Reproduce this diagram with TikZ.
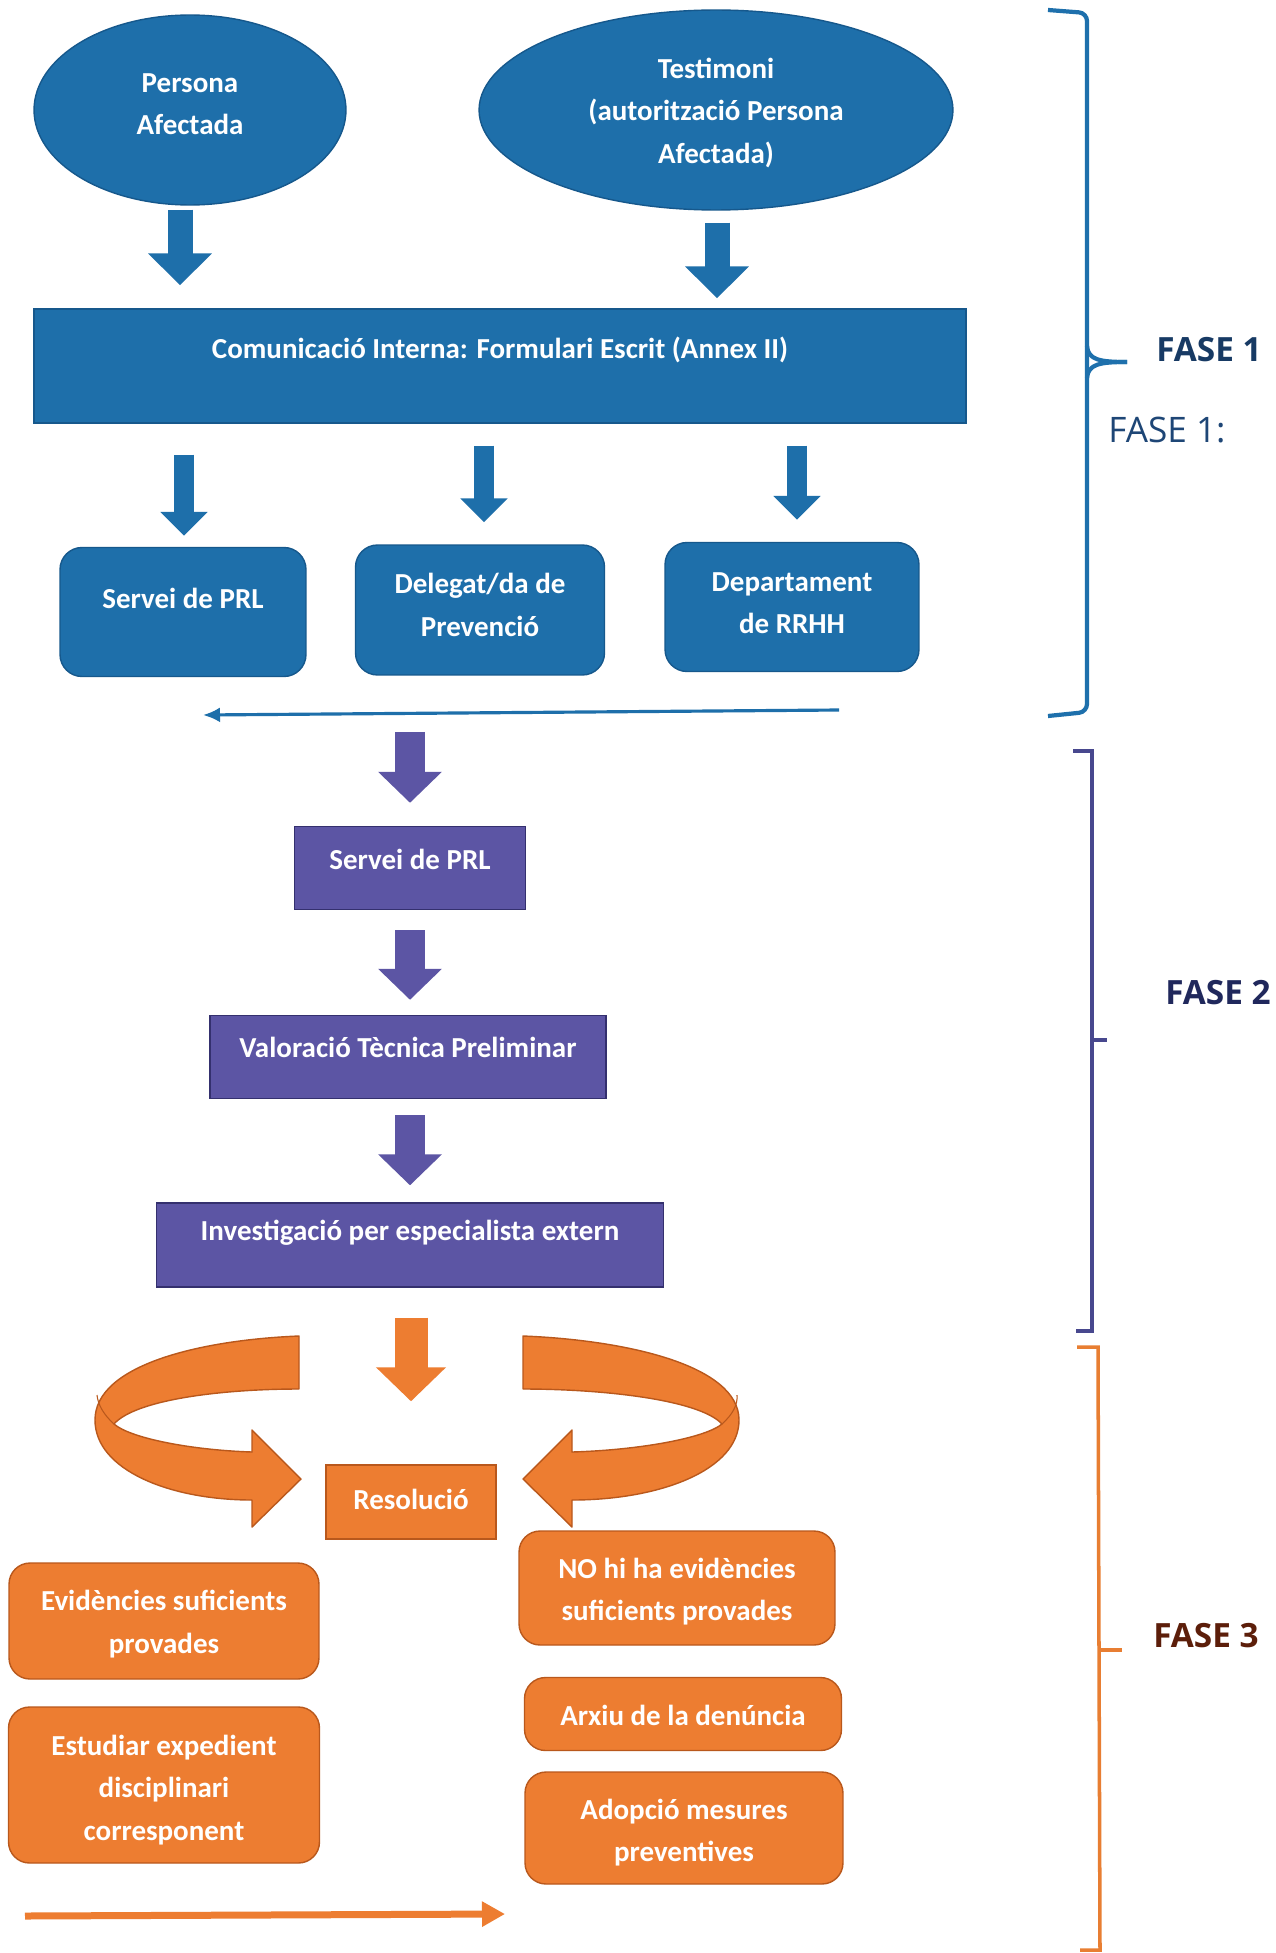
\documentclass[tikz,border=0pt]{standalone}
\usepackage{fontspec}
\setmainfont{Carlito}
\newfontfamily\fasefont{Open Sans}
\usetikzlibrary{arrows.meta,shapes.geometric,calc}
\definecolor{blueF}{RGB}{30,111,170}
\definecolor{blueD}{RGB}{22,88,140}
\definecolor{purF}{RGB}{92,85,164}
\definecolor{purD}{RGB}{52,48,110}
\definecolor{orF}{RGB}{237,125,49}
\definecolor{orD}{RGB}{185,88,28}
\definecolor{f1c}{RGB}{23,58,100}
\definecolor{f1b}{RGB}{30,70,118}
\definecolor{f2c}{RGB}{32,40,92}
\definecolor{f3c}{RGB}{92,30,10}
\definecolor{br1}{RGB}{30,112,172}
\definecolor{br2}{RGB}{72,72,142}
\definecolor{br3}{RGB}{232,126,50}
\begin{document}
\begin{tikzpicture}[x=0.02cm,y=-0.02cm,
  txt/.style={text=white, font=\bfseries\fontsize{16.5}{24}\selectfont, align=center, inner sep=0pt},
  ell/.style={ellipse, draw=blueD, fill=blueF, line width=0.8pt, inner sep=0pt},
  bluebar/.style={draw=blueD, fill=blueF, line width=0.8pt, inner sep=0pt},
  bluebox/.style={draw=blueD, fill=blueF, line width=0.8pt, rounded corners=0.44cm, inner sep=0pt},
  purbox/.style={draw=purD, fill=purF, line width=0.8pt, inner sep=0pt},
  orbox/.style={draw=orD, fill=orF, line width=0.8pt, inner sep=0pt},
  orrbox/.style={draw=orD, fill=orF, line width=0.8pt, rounded corners=0.42cm, inner sep=0pt},
  bigblue/.style={draw=blueF, line width=0.5cm, -{Triangle[width=1.24cm,length=0.64cm]}},
  smallblue/.style={draw=blueF, line width=0.4cm, -{Triangle[width=0.92cm,length=0.48cm]}},
  purarrow/.style={draw=purF, line width=0.6cm, -{Triangle[width=1.24cm,length=0.62cm]}},
  orarrow/.style={draw=orF, line width=0.66cm, -{Triangle[width=1.36cm,length=0.68cm]}},
  fasebold/.style={font=\fasefont\bfseries\fontsize{19}{23}\selectfont, inner sep=0pt},
  fasereg/.style={font=\fasefont\fontsize{20}{24}\selectfont, inner sep=0pt}
]
\useasboundingbox (0,0) rectangle (1275,1953);
\fill[white] (0,0) rectangle (1275,1953);

% ---------------- FASE 1 ----------------
\node[ell, minimum width=6.24cm, minimum height=3.8cm] (pa) at (190,110) {};
\node[txt] (pat) at (190,104) {Persona\\Afectada};
\node[ell, minimum width=9.48cm, minimum height=4.0cm] (test) at (716,110) {};
\node[txt] (testt) at (716,113) {Testimoni\\(autorització Persona\\Afectada)};

\node[bluebar, minimum width=18.64cm, minimum height=2.28cm] (com) at (500,366) {};
\node[txt] (comt) at (500,350) {Comunicació Interna: Formulari Escrit (Annex II)};

\draw[bigblue] ($(pa.south)+(-10,4)$) -- ($(pa.south |- com.north)+(-10,-23)$);
\draw[bigblue] ($(test.south)+(1,12)$) -- ($(test.south |- com.north)+(1,-10)$);

\node[bluebox, minimum width=4.92cm, minimum height=2.58cm] (prl1) at (183,612) {};
\node[txt] (prl1t) at (183,598) {Servei de PRL};
\node[bluebox, minimum width=4.98cm, minimum height=2.6cm] (del) at (480,610) {};
\node[txt] (delt) at (480,605) {Delegat/da de\\Prevenció};
\node[bluebox, minimum width=5.08cm, minimum height=2.58cm] (rrhh) at (792,607) {};
\node[txt] (rrhht) at (792,603) {Departament\\de RRHH};

\draw[smallblue] ($(prl1.north |- com.south)+(1,31)$) -- ($(prl1.north)+(1,-11)$);
\draw[smallblue] ($(del.north |- com.south)+(4,22)$) -- ($(del.north)+(4,-22)$);
\draw[smallblue] ($(rrhh.north |- com.south)+(5,22)$) -- ($(rrhh.north)+(5,-22)$);

\coordinate (t1) at (839,710);
\coordinate (t2) at (203,715);
\draw[draw=blueF, line width=1.8pt, -{Latex[length=0.34cm,width=0.3cm]}] (t1) -- (t2);

% bracket fase 1
\draw[br1, line width=2.4pt, rounded corners=0.16cm] (1048,10) -- (1087,13) -- (1087,712) -- (1048,716);
\draw[br1, line width=2.4pt] (1087,346) .. controls (1088,360) and (1100,362) .. (1127,362);
\draw[br1, line width=2.4pt] (1087,378) .. controls (1088,364) and (1100,362) .. (1127,362);
\node[fasebold, text=f1c] (fase1) at (1209,350) {FASE 1};
\node[fasereg, text=f1b] (fase1b) at (1167,430) {FASE 1:};

% ---------------- FASE 2 ----------------
\node[purbox, minimum width=4.62cm, minimum height=1.66cm] (s2) at (410,868) {};
\node[txt] (s2t) at (410,859) {Servei de PRL};
\node[purbox, minimum width=7.92cm, minimum height=1.66cm] (val) at (408,1057) {};
\node[txt] (valt) at (408,1047) {Valoració Tècnica Preliminar};
\node[purbox, minimum width=10.14cm, minimum height=1.68cm] (inv) at (410,1245) {};
\node[txt] (invt) at (410,1233) {Investigació per especialista extern};

\draw[purarrow] ($(s2.north)+(0,-94)$) -- ($(s2.north)+(0,-23)$);
\draw[purarrow] ($(s2.south)+(0,20)$) -- ($(s2.south |- val.north)+(0,-15)$);
\draw[purarrow] ($(val.south)+(2,16)$) -- ($(val.south |- inv.north)+(2,-17)$);

\draw[br2, line width=2pt] (1073,751) -- (1092,751) -- (1092,1331) -- (1076,1331);
\draw[br2, line width=2pt] (1092,1040) -- (1107,1040);
\node[fasebold, text=f2c] (fase2) at (1218,993) {FASE 2};

% ---------------- FASE 3 ----------------
\node[orbox, minimum width=3.4cm, minimum height=1.48cm] (res) at (411,1502) {};
\node[txt] (rest) at (411,1499) {Resolució};
\draw[orarrow] ($(inv.south)+(1,30)$) -- ($(inv.south |- res.north)+(1,-63)$);

% curved arrows
\filldraw[fill=orF, draw=orD, line width=0.8pt, line join=round]
  (299,1336) .. controls (200,1340) and (95,1365) .. (95,1420)
  .. controls (95,1470) and (170,1500) .. (252,1500)
  -- (252,1527) -- (301,1479) -- (252,1430) -- (252,1452)
  .. controls (190,1450) and (130,1438) .. (114,1424)
  .. controls (135,1400) and (220,1389) .. (299,1389) -- cycle;
\draw[orD, line width=0.6pt] (114,1424) .. controls (104,1415) and (98,1405) .. (97,1395);
\filldraw[fill=orF, draw=orD, line width=0.8pt, line join=round]
  (523,1336) .. controls (625,1340) and (739,1365) .. (739,1420)
  .. controls (739,1470) and (660,1500) .. (572,1500)
  -- (572,1527) -- (523,1479) -- (572,1430) -- (572,1452)
  .. controls (640,1450) and (705,1438) .. (722,1424)
  .. controls (700,1400) and (605,1389) .. (523,1389) -- cycle;
\draw[orD, line width=0.6pt] (722,1424) .. controls (732,1415) and (738,1405) .. (737,1395);

\node[orrbox, minimum width=6.2cm, minimum height=2.32cm] (ev) at (164,1621) {};
\node[txt] (evt) at (164,1624) {Evidències suficients\\provades};
\node[orrbox, minimum width=6.22cm, minimum height=3.12cm] (est) at (164,1785) {};
\node[txt] (estt) at (164,1790) {Estudiar expedient\\disciplinari\\corresponent};
\node[orrbox, minimum width=6.32cm, minimum height=2.28cm] (no) at (677,1588) {};
\node[txt] (not) at (677,1592) {NO hi ha evidències\\suficients provades};
\node[orrbox, minimum width=6.34cm, minimum height=1.46cm] (arx) at (683,1714) {};
\node[txt] (arxt) at (683,1715) {Arxiu de la denúncia};
\node[orrbox, minimum width=6.36cm, minimum height=2.24cm] (ado) at (684,1828) {};
\node[txt] (adot) at (684,1833) {Adopció mesures\\preventives};

\coordinate (b1) at (25,1916);
\coordinate (b2) at (505,1914);
\draw[draw=orF, line width=0.14cm, -{Triangle[width=0.48cm,length=0.46cm]}] (b1) -- (b2);

\draw[br3, line width=2pt] (1077,1347) -- (1098,1347) -- (1100,1950) -- (1080,1950);
\draw[br3, line width=2pt] (1099,1650) -- (1122,1650);
\node[fasebold, text=f3c] (fase3) at (1206,1636) {FASE 3};
\end{tikzpicture}
\end{document}
